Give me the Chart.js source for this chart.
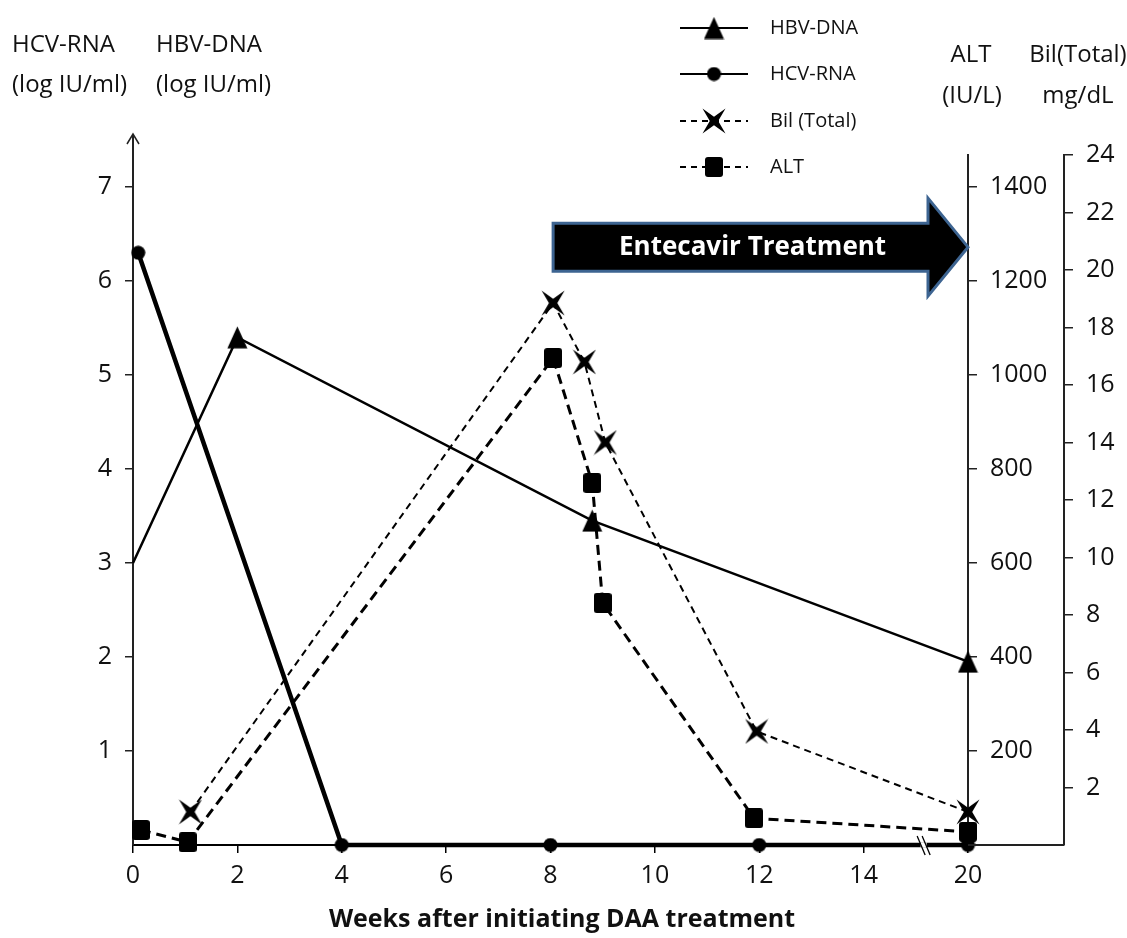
<!DOCTYPE html>
<html><head><meta charset="utf-8">
<script src="https://cdn.jsdelivr.net/npm/chart.js@4.4.0/dist/chart.umd.min.js"></script>
<style>html,body{margin:0;padding:0;background:#fff;}canvas{display:block;}</style>
</head><body>
<canvas id="c" width="1127" height="938"></canvas>
<script>
// ---------------- data ----------------
const xTickWeeks = [0, 2, 4, 6, 8, 10, 12, 14, 20];
const hbvWeeks  = [0, 2, 8.8, 20];
const hbvValues = [3.0, 5.4, 3.45, 1.95];
const hcvWeeks  = [0.1, 4, 8, 12, 20];
const hcvValues = [6.3, 0, 0, 0, 0];
const bilWeeks  = [1.1, 8.05, 8.65, 9.05, 11.95, 20];
const bilValues = [1.15, 18.85, 16.8, 14.0, 3.95, 1.15];
const altWeeks  = [0.15, 1.05, 8.05, 8.8, 9.0, 11.9, 20];
const altValues = [32, 6, 1036, 770, 515, 57, 28];
const leftTicks = [1, 2, 3, 4, 5, 6, 7];
const altTicks  = [200, 400, 600, 800, 1000, 1200, 1400];
const bilTicks  = [2, 4, 6, 8, 10, 12, 14, 16, 18, 20, 22, 24];
const legendLabels = ['HBV-DNA', 'HCV-RNA', 'Bil (Total)', 'ALT'];
const treatmentLabel = 'Entecavir Treatment';
const treatmentFrom = 8.05, treatmentTo = 20;
const xTitle = 'Weeks after initiating DAA treatment';

// broken axis: week 20 is drawn in the slot after 14
const axisPos = w => (w >= 20 ? 16 : w);
const toXY = (ws, vs) => ws.map((w, i) => ({ x: axisPos(w), y: vs[i] }));

const FONT = "'Open Sans', 'DejaVu Sans', sans-serif";
const INK = '#111';

// ---------------- markers ----------------
function mk(w, h, draw) {
  const c = document.createElement('canvas'); c.width = w; c.height = h;
  const g = c.getContext('2d'); g.fillStyle = '#000'; draw(g, w, h); return c;
}
const triMarker = mk(21, 23, (g, w, h) => { g.beginPath(); g.moveTo(w / 2, 0.5); g.lineTo(w - 0.5, h - 0.5); g.lineTo(0.5, h - 0.5); g.closePath(); g.fill(); });
const dotMarker = mk(15, 15, (g) => { g.beginPath(); g.arc(7.5, 7.5, 7, 0, Math.PI * 2); g.fill(); });
const sqMarker  = mk(18, 20, (g, w, h) => { const r = 3; g.beginPath(); g.moveTo(r, 0); g.lineTo(w - r, 0); g.quadraticCurveTo(w, 0, w, r); g.lineTo(w, h - r); g.quadraticCurveTo(w, h, w - r, h); g.lineTo(r, h); g.quadraticCurveTo(0, h, 0, h - r); g.lineTo(0, r); g.quadraticCurveTo(0, 0, r, 0); g.fill(); });
const starMarker = mk(24, 26, (g, w, h) => {
  const cx = w / 2, cy = h / 2, r = 4.2;
  const pts = [[w - 0.5, h - 0.5], [cx, cy + r], [0.5, h - 0.5], [cx - r, cy], [0.5, 0.5], [cx, cy - r], [w - 0.5, 0.5], [cx + r, cy]];
  g.beginPath(); pts.forEach((p, i) => (i ? g.lineTo(p[0], p[1]) : g.moveTo(p[0], p[1]))); g.closePath(); g.fill();
});

// ---------------- plugin for decorations ----------------
const decor = {
  id: 'decor',
  beforeDatasetsDraw(chart) {
    const { ctx, scales } = chart;
    const x = scales.x, y = scales.y;
    ctx.save();
    const x0 = x.getPixelForValue(axisPos(treatmentFrom));
    const xt = x.getPixelForValue(axisPos(treatmentTo));
    const yc = y.getPixelForValue(6.36);
    const bh = 24, hh = 49, hl = 40;
    ctx.beginPath();
    ctx.moveTo(x0, yc - bh); ctx.lineTo(xt - hl, yc - bh); ctx.lineTo(xt - hl, yc - hh);
    ctx.lineTo(xt, yc); ctx.lineTo(xt - hl, yc + hh); ctx.lineTo(xt - hl, yc + bh);
    ctx.lineTo(x0, yc + bh); ctx.closePath();
    ctx.fillStyle = '#000'; ctx.fill();
    ctx.lineWidth = 3; ctx.strokeStyle = '#3d6491'; ctx.lineJoin = 'miter'; ctx.stroke();
    ctx.fillStyle = '#fff'; ctx.font = "bold 26px " + FONT; ctx.textAlign = 'center'; ctx.textBaseline = 'middle';
    ctx.fillText(treatmentLabel, (x0 + xt - hl) / 2 + 12, yc);
    ctx.restore();
  },
  afterDraw(chart) {
    const { ctx, chartArea, scales } = chart;
    const x = scales.x;
    ctx.save();
    ctx.strokeStyle = '#222'; ctx.lineWidth = 2;
    ctx.beginPath(); ctx.moveTo(chartArea.left, chartArea.top); ctx.lineTo(chartArea.left, 134); ctx.stroke();
    ctx.lineWidth = 1.5;
    ctx.beginPath(); ctx.moveTo(chartArea.left - 6, 144); ctx.lineTo(chartArea.left, 134); ctx.lineTo(chartArea.left + 6, 144); ctx.stroke();
    ctx.lineWidth = 2;
    ctx.beginPath(); ctx.moveTo(chartArea.right, chartArea.bottom); ctx.lineTo(scales.bil.left, chartArea.bottom); ctx.stroke();
    // axis break marks
    const bx = x.getPixelForValue(15.15);
    ctx.lineWidth = 1.3; ctx.strokeStyle = '#000';
    ctx.fillStyle = '#fff';
    ctx.fillRect(bx - 3, chartArea.bottom - 2.5, 6, 5);
    [-2.5, 2.5].forEach(d => { ctx.beginPath(); ctx.moveTo(bx + d - 4, chartArea.bottom - 9); ctx.lineTo(bx + d + 4, chartArea.bottom + 10); ctx.stroke(); });

    // titles
    ctx.fillStyle = INK; ctx.textBaseline = 'middle';
    ctx.font = "24px " + FONT; ctx.textAlign = 'left';
    ctx.fillText('HCV-RNA', 12, 45); ctx.fillText('(log IU/ml)', 12, 85);
    ctx.fillText('HBV-DNA', 156, 45); ctx.fillText('(log IU/ml)', 156, 85);
    ctx.textAlign = 'center';
    ctx.fillText('ALT', 971, 55); ctx.fillText('(IU/L)', 972, 96);
    ctx.fillText('Bil(Total)', 1078, 55); ctx.fillText('mg/dL', 1078, 96);
    ctx.font = "bold 25px " + FONT;
    ctx.fillText(xTitle, 562, 920);

    // legend
    const rows = [28, 74, 121, 167];
    const markers = [triMarker, dotMarker, starMarker, sqMarker];
    const dashes = [[], [], [6, 5], [6, 5]];
    rows.forEach((ry, i) => {
      ctx.strokeStyle = '#000'; ctx.lineWidth = 2; ctx.setLineDash(dashes[i]);
      ctx.beginPath(); ctx.moveTo(680, ry); ctx.lineTo(748, ry); ctx.stroke();
      ctx.setLineDash([]);
      const m = markers[i]; ctx.drawImage(m, 714 - m.width / 2, ry - m.height / 2);
      ctx.fillStyle = INK; ctx.font = "20px " + FONT; ctx.textAlign = 'left';
      ctx.fillText(legendLabels[i], 770, ry);
    });
    ctx.restore();
  }
};

const fixWidth = w => (s => { s.width = w; });
const setTicks = arr => (s => { s.ticks = arr.map(v => ({ value: v })); });
const tickFont = { family: FONT, size: 25 };
const plain = v => String(v);

new Chart(document.getElementById('c'), {
  type: 'line',
  data: {
    datasets: [
      { label: 'HCV-RNA', data: toXY(hcvWeeks, hcvValues), yAxisID: 'y', borderColor: '#000', borderWidth: 4.5,
        pointStyle: dotMarker, pointRadius: 6, pointHoverRadius: 6, tension: 0, clip: false },
      { label: 'HBV-DNA', data: toXY(hbvWeeks, hbvValues), yAxisID: 'y', borderColor: '#000', borderWidth: 2.5,
        pointStyle: triMarker, pointRadius: hbvValues.map((v, i) => (i === 0 ? 0 : 8)), tension: 0, clip: false },
      { label: 'Bil (Total)', data: toXY(bilWeeks, bilValues), yAxisID: 'bil', borderColor: '#000', borderWidth: 2,
        borderDash: [7, 5], pointStyle: starMarker, pointRadius: 8, tension: 0, clip: false },
      { label: 'ALT', data: toXY(altWeeks, altValues), yAxisID: 'alt', borderColor: '#000', borderWidth: 3,
        borderDash: [10, 6], pointStyle: sqMarker, pointRadius: 8, tension: 0, clip: false }
    ]
  },
  options: {
    responsive: false, animation: false, devicePixelRatio: 1,
    layout: { padding: { top: 155, left: 0, right: 0, bottom: 0 } },
    plugins: { legend: { display: false }, tooltip: { enabled: false } },
    scales: {
      x: {
        type: 'linear', min: 0, max: 16, position: 'bottom',
        afterBuildTicks: setTicks(xTickWeeks.map(axisPos)),
        afterFit: s => { s.height = 93; },
        ticks: { font: tickFont, color: INK, padding: 8, maxRotation: 0, autoSkip: false,
          callback: v => { const i = xTickWeeks.map(axisPos).indexOf(v); return i >= 0 ? String(xTickWeeks[i]) : ''; } },
        grid: { drawOnChartArea: false, drawTicks: true, tickLength: 8, color: '#000', lineWidth: 1.5 },
        border: { display: true, color: '#000', width: 2 }
      },
      y: {
        type: 'linear', min: 0, max: 7.34, position: 'left',
        afterBuildTicks: setTicks(leftTicks), afterFit: fixWidth(133),
        ticks: { font: tickFont, color: INK, padding: 13, autoSkip: false, callback: plain },
        grid: { drawOnChartArea: false, tickLength: 8, color: '#222', lineWidth: 1.5 },
        border: { display: true, color: '#222', width: 2 }
      },
      alt: {
        type: 'linear', min: 0, max: 1468, position: 'right', weight: 0,
        afterBuildTicks: setTicks(altTicks), afterFit: fixWidth(96),
        ticks: { font: tickFont, color: INK, padding: 13, autoSkip: false, callback: plain },
        grid: { drawOnChartArea: false, tickLength: 9, color: '#222', lineWidth: 1.5 },
        border: { display: true, color: '#222', width: 2 }
      },
      bil: {
        type: 'linear', min: 0, max: 24, position: 'right', weight: 1,
        afterBuildTicks: setTicks(bilTicks), afterFit: fixWidth(63),
        ticks: { font: tickFont, color: INK, padding: 13, autoSkip: false, callback: plain },
        grid: { drawOnChartArea: false, tickLength: 9, color: '#222', lineWidth: 1.5 },
        border: { display: true, color: '#222', width: 2 }
      }
    }
  },
  plugins: [decor]
});
</script>
</body></html>
